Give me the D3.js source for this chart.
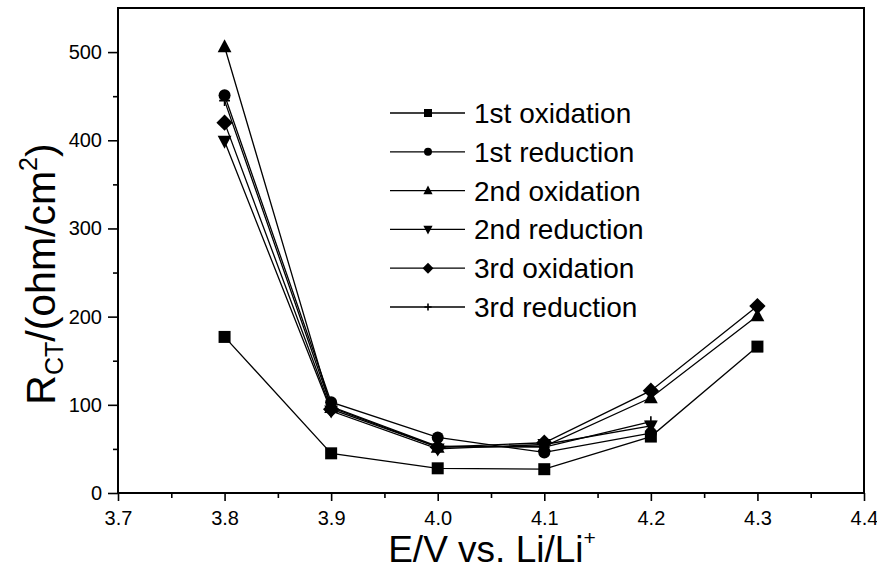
<!DOCTYPE html>
<html>
<head>
<meta charset="utf-8">
<script src="https://cdn.jsdelivr.net/npm/d3@7"></script>
<style>
  html, body { margin: 0; padding: 0; background: #fff; }
  svg { display: block; }
  text { font-family: "Liberation Sans", Arial, Helvetica, sans-serif; fill: #000; }
</style>
</head>
<body>
<svg id="chart" width="877" height="573"></svg>
<script>
// Potential (V vs. Li/Li+) at which each impedance spectrum was taken
const voltages = [3.8, 3.9, 4.0, 4.1, 4.2, 4.3];

// Charge-transfer resistance, ohm/cm^2, for each cycle
const firstOxidation  = [177, 45, 28, 27, 64, 166];
const firstReduction  = [451, 103, 63, 46, 68];
const secondOxidation = [506, 97, 52, 53, 108, 201];
const secondReduction = [399, 93, 50, 55, 76];
const thirdOxidation  = [420, 95, 52, 57, 116, 212];
const thirdReduction  = [445, 98, 53, 52, 81];

const seriesNames = ["1st oxidation", "1st reduction", "2nd oxidation",
                     "2nd reduction", "3rd oxidation", "3rd reduction"];
const seriesValues = [firstOxidation, firstReduction, secondOxidation,
                      secondReduction, thirdOxidation, thirdReduction];
const seriesMarkers = ["square", "circle", "triangleUp", "triangleDown", "diamond", "plus"];

const xTicks = [3.7, 3.8, 3.9, 4.0, 4.1, 4.2, 4.3, 4.4];
const yTicks = [0, 100, 200, 300, 400, 500];

const svg = d3.select("#chart");
const plot = { left: 118, right: 864, top: 8, bottom: 493 };

const x = d3.scaleLinear().domain([3.7, 4.4]).range([plot.left, plot.right]);
const y = d3.scaleLinear().domain([0, 550]).range([plot.bottom, plot.top]);

// frame
svg.append("rect")
  .attr("x", plot.left).attr("y", plot.top)
  .attr("width", plot.right - plot.left).attr("height", plot.bottom - plot.top)
  .attr("fill", "none").attr("stroke", "#000").attr("stroke-width", 2);

// x axis: major and minor ticks pointing outward
const xMinor = svg.append("g").attr("transform", `translate(0,${plot.bottom})`)
  .call(d3.axisBottom(x).tickValues(d3.range(3.75, 4.4, 0.1)).tickSize(5).tickFormat(""));
xMinor.select(".domain").remove();
const xMajor = svg.append("g").attr("transform", `translate(0,${plot.bottom})`)
  .call(d3.axisBottom(x).tickValues(xTicks).tickSize(8).tickPadding(10).tickFormat(d3.format(".1f")));
xMajor.select(".domain").remove();
xMajor.selectAll("text").attr("font-size", 20).attr("font-family", "Liberation Sans, Arial, sans-serif");

// y axis
const yMinor = svg.append("g").attr("transform", `translate(${plot.left},0)`)
  .call(d3.axisLeft(y).tickValues(d3.range(50, 550, 100)).tickSize(5).tickFormat(""));
yMinor.select(".domain").remove();
const yMajor = svg.append("g").attr("transform", `translate(${plot.left},0)`)
  .call(d3.axisLeft(y).tickValues(yTicks).tickSize(10).tickPadding(6));
yMajor.select(".domain").remove();
yMajor.selectAll("text").attr("font-size", 20).attr("font-family", "Liberation Sans, Arial, sans-serif");
svg.selectAll("g .tick line").attr("stroke", "#000").attr("stroke-width", 1.6);

// axis titles
const xt = svg.append("text")
  .attr("x", 492).attr("y", 562)
  .attr("text-anchor", "middle").attr("font-size", 37);
xt.append("tspan").text("E/V vs. Li/Li");
xt.append("tspan").attr("font-size", 21).attr("dy", -17).text("+");

const yt = svg.append("text")
  .attr("transform", `translate(55,274) rotate(-90)`)
  .attr("text-anchor", "middle").attr("font-size", 41);
yt.append("tspan").text("R");
yt.append("tspan").attr("font-size", 25).attr("dy", 8).text("CT");
yt.append("tspan").attr("dy", -8).text("/(ohm/cm");
yt.append("tspan").attr("font-size", 25).attr("dy", -18).text("2");
yt.append("tspan").attr("dy", 18).text(")");

// marker shapes, s = nominal size in px
function markerPath(type, s) {
  const h = s / 2;
  switch (type) {
    case "square": return `M${-h},${-h}H${h}V${h}H${-h}Z`;
    case "circle": return d3.symbol(d3.symbolCircle, Math.PI * h * h)();
    case "triangleUp": {
      const t = s * 1.15;
      return `M0,${-t * 0.55}L${t / 2},${t * 0.4}L${-t / 2},${t * 0.4}Z`;
    }
    case "triangleDown": {
      const t = s * 1.15;
      return `M0,${t * 0.55}L${t / 2},${-t * 0.4}L${-t / 2},${-t * 0.4}Z`;
    }
    case "diamond": {
      const d = s * 0.68;
      return `M0,${-d}L${d},0L0,${d}L${-d},0Z`;
    }
    case "plus": {
      const p = s * 0.45;
      return `M${-p},0H${p}M0,${-p}V${p}`;
    }
  }
}

function drawMarker(g, type, s) {
  const p = g.append("path").attr("d", markerPath(type, s));
  if (type === "plus") p.attr("fill", "none").attr("stroke", "#000").attr("stroke-width", 1.6);
  else p.attr("fill", "#000").attr("stroke", "none");
}

const line = d3.line().x(d => x(d[0])).y(d => y(d[1]));

seriesValues.forEach(vals => {
  const pts = vals.map((v, j) => [voltages[j], v]);
  svg.append("path").datum(pts)
    .attr("d", line)
    .attr("fill", "none").attr("stroke", "#000").attr("stroke-width", 1.3);
});
seriesValues.forEach((vals, i) => {
  vals.forEach((v, j) => {
    const g = svg.append("g").attr("transform", `translate(${x(voltages[j])},${y(v)})`);
    drawMarker(g, seriesMarkers[i], 12);
  });
});

// legend
const legend = svg.append("g");
seriesNames.forEach((name, i) => {
  const cy = 113 + i * 38.8;
  legend.append("line").attr("x1", 390).attr("x2", 465).attr("y1", cy).attr("y2", cy)
    .attr("stroke", "#000").attr("stroke-width", 1.3);
  const g = legend.append("g").attr("transform", `translate(428,${cy})`);
  drawMarker(g, seriesMarkers[i], 8);
  legend.append("text").attr("x", 474).attr("y", cy + 10).attr("font-size", 28).text(name);
});
</script>
</body>
</html>
